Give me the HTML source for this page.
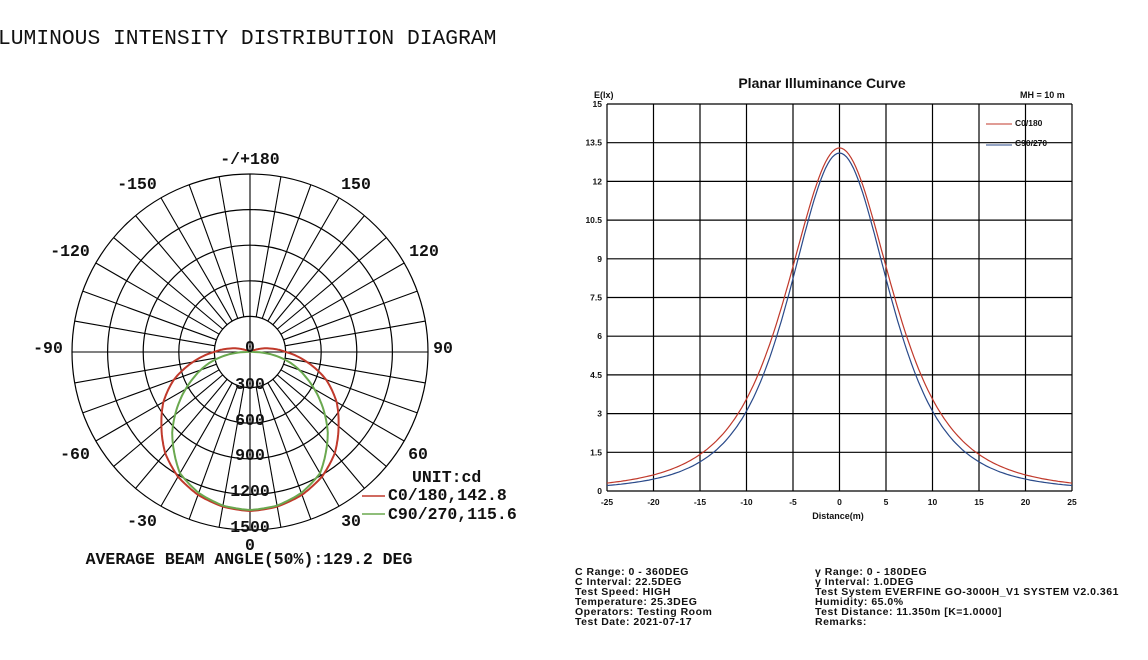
<!DOCTYPE html>
<html><head><meta charset="utf-8">
<style>
html,body{margin:0;padding:0;background:#fff;}
svg{display:block;}
.m{font-family:"Liberation Mono",monospace;font-weight:bold;font-size:16.5px;fill:#111;}
.s{font-family:"Liberation Sans",sans-serif;font-weight:bold;fill:#111;}
</style></head>
<body>
<svg id="svg" width="1148" height="660" viewBox="0 0 1148 660" xmlns="http://www.w3.org/2000/svg">
<rect width="1148" height="660" fill="#fff"/>
<text x="-2" y="44" font-family="Liberation Mono,monospace" font-size="21.3" fill="#111">LUMINOUS INTENSITY DISTRIBUTION DIAGRAM</text>
<g id="polar"></g>
<g class="m" text-anchor="middle">
<text x="250" y="164">-/+180</text>
<text x="137" y="189">-150</text>
<text x="356" y="189">150</text>
<text x="70" y="256">-120</text>
<text x="424" y="256">120</text>
<text x="48" y="353">-90</text>
<text x="443" y="353">90</text>
<text x="75" y="459">-60</text>
<text x="418" y="459">60</text>
<text x="142" y="526">-30</text>
<text x="351" y="526">30</text>
<text x="250" y="352">0</text>
<text x="250" y="389">300</text>
<text x="250" y="425">600</text>
<text x="250" y="460">900</text>
<text x="250" y="496">1200</text>
<text x="250" y="532">1500</text>
<text x="250" y="550">0</text>
<text x="249" y="564">AVERAGE BEAM ANGLE(50%):129.2 DEG</text>
</g>
<g class="m" font-size="14">
<text x="412" y="482">UNIT:cd</text>
<text x="388" y="500">C0/180,142.8</text>
<text x="388" y="519">C90/270,115.6</text>
</g>
<line x1="362" y1="496" x2="385" y2="496" stroke="#c0392b" stroke-width="1.5"/>
<line x1="362" y1="514" x2="385" y2="514" stroke="#6aa84f" stroke-width="1.5"/>

<g id="cart"></g>
<text class="s" x="822" y="88" font-size="14" text-anchor="middle">Planar Illuminance Curve</text>
<text class="s" x="594" y="98" font-size="9">E(lx)</text>
<text class="s" x="1020" y="98" font-size="9">MH = 10 m</text>
<line x1="986" y1="124" x2="1012" y2="124" stroke="#c0392b" stroke-width="1"/>
<text class="s" x="1015" y="126" font-size="8.5">C0/180</text>
<line x1="986" y1="145" x2="1012" y2="145" stroke="#2a4a8a" stroke-width="1"/>
<text class="s" x="1015" y="146" font-size="8.5">C90/270</text>
<text class="s" x="838" y="519" font-size="9" text-anchor="middle">Distance(m)</text>
<g class="s" font-size="10.5" letter-spacing="0.5">
<text x="575" y="575">C Range:   0 - 360DEG</text>
<text x="575" y="585">C Interval:  22.5DEG</text>
<text x="575" y="595">Test Speed: HIGH</text>
<text x="575" y="605">Temperature: 25.3DEG</text>
<text x="575" y="615">Operators: Testing Room</text>
<text x="575" y="625">Test Date: 2021-07-17</text>
<text x="815" y="575">γ Range:   0 - 180DEG</text>
<text x="815" y="585">γ Interval:   1.0DEG</text>
<text x="815" y="595">Test System EVERFINE GO-3000H_V1 SYSTEM V2.0.361</text>
<text x="815" y="605">Humidity: 65.0%</text>
<text x="815" y="615">Test Distance: 11.350m [K=1.0000]</text>
<text x="815" y="625">Remarks:</text>
</g>
</svg>
<script>
var NS="http://www.w3.org/2000/svg";
function el(p,t,a){var e=document.createElementNS(NS,t);for(var k in a)e.setAttribute(k,a[k]);p.appendChild(e);return e;}
var P=document.getElementById("polar"),cx=250,cy=352,R=178;
for(var i=1;i<=5;i++)el(P,"circle",{cx:cx,cy:cy,r:R*i/5,fill:"none",stroke:"#000","stroke-width":1.2});
for(var a=0;a<360;a+=10){var t=a*Math.PI/180,r0=(a%90==0)?0:R/5;
el(P,"line",{x1:cx+r0*Math.sin(t),y1:cy-r0*Math.cos(t),x2:cx+R*Math.sin(t),y2:cy-R*Math.cos(t),stroke:"#000","stroke-width":1.1});}
function interp(tab,g){for(var i=0;i<tab.length-1;i++){if(g>=tab[i][0]&&g<=tab[i+1][0]){var f=(g-tab[i][0])/(tab[i+1][0]-tab[i][0]);return tab[i][1]+f*(tab[i+1][1]-tab[i][1]);}}return 0;}
function polar(tab,col){var d="";for(var g=-130;g<=130;g+=1){var r=interp(tab,Math.abs(g)),t=g*Math.PI/180;d+=(d?"L":"M")+(cx+r*Math.sin(t)).toFixed(1)+","+(cy+r*Math.cos(t)).toFixed(1);}
el(P,"path",{d:d,fill:"none",stroke:col,"stroke-width":2});}
polar([[0,159],[10,157],[20,152],[30,144],[40,132],[51,114],[60,100],[70,81],[80,58],[90,36],[100,20],[110,8],[120,0],[130,0]],"#c0392b");
polar([[0,158],[10,156],[20,150],[30,140],[44,112],[55,86],[65,63],[75,42],[85,18],[90,4],[95,0],[130,0]],"#6aa84f");
var C=document.getElementById("cart"),x0=607,x1=1072,y0=104,y1=491;
for(var i=0;i<=10;i++){var x=x0+(x1-x0)*i/10,y=y0+(y1-y0)*i/10;
el(C,"line",{x1:x,y1:y0,x2:x,y2:y1,stroke:"#000","stroke-width":1.2});
el(C,"line",{x1:x0,y1:y,x2:x1,y2:y,stroke:"#000","stroke-width":1.2});
var tx=el(C,"text",{x:x,y:505,"text-anchor":"middle","class":"s","font-size":"8.5"});tx.textContent=(-25+5*i);
var ty=el(C,"text",{x:602,y:y1-(y1-y0)*i/10+3,"text-anchor":"end","class":"s","font-size":"8.5"});ty.textContent=(1.5*i).toFixed(1).replace(".0","");}
function curve(pk,p,col){var d="";for(var xv=-25;xv<=25.01;xv+=0.25){var e=pk/Math.pow(1+xv*xv/100,p);d+=(d?"L":"M")+(x0+(xv+25)/50*(x1-x0)).toFixed(1)+","+(y1-e/15*(y1-y0)).toFixed(1);}
el(C,"path",{d:d,fill:"none",stroke:col,"stroke-width":1.2});}
curve(13.3,1.9,"#c0392b");curve(13.1,2.08,"#2a4a8a");
</script>
</body></html>
